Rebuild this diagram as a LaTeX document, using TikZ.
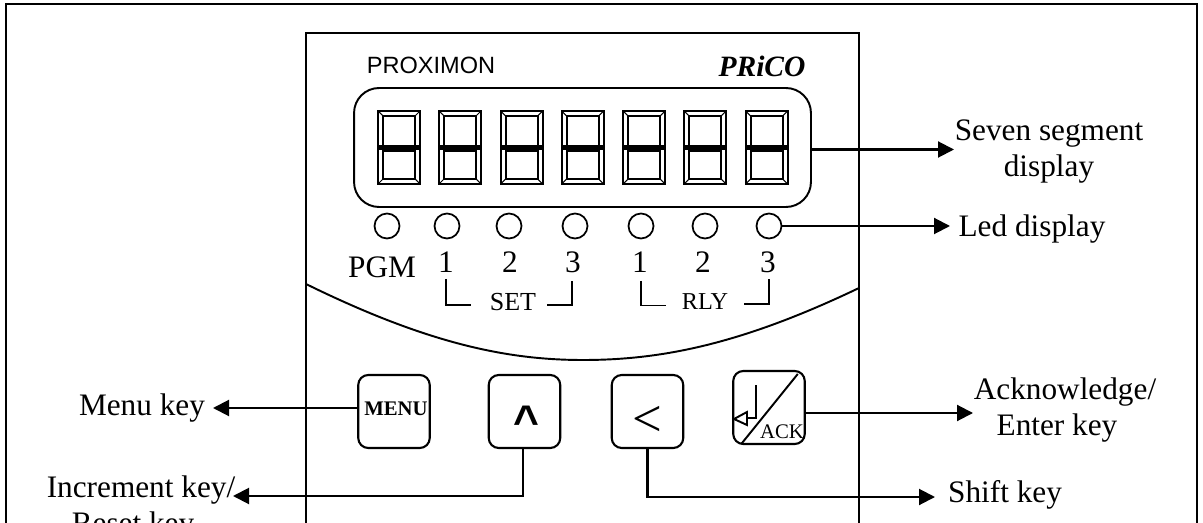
\documentclass[tikz,border=0pt]{standalone}
\usepackage{fontspec}
\setmainfont{Liberation Serif}
\newfontfamily\panelsans{Liberation Sans}
\usetikzlibrary{arrows.meta,positioning,calc}
\tikzset{
  txt/.style={font=\fontsize{17.8}{20.5}\selectfont, align=center, inner sep=0pt},
  sm/.style={font=\fontsize{14.8}{17}\selectfont, inner sep=0pt},
  keybox/.style={draw, line width=1.2pt, rounded corners=0.2cm, minimum width=1.43cm, minimum height=1.46cm, inner sep=0pt},
  led/.style={draw, circle, line width=1pt, minimum size=0.5cm, inner sep=0pt},
  arr/.style={-{Triangle[length=0.32cm,width=0.32cm]}, line width=1.15pt},
  ln/.style={line width=1.1pt},
}
\begin{document}
\begin{tikzpicture}[x=0.02cm, y=-0.02cm]
    \clip (0,0) rectangle (1203,523);
    \fill[white] (0,0) rectangle (1203,523);
    \draw[line width=1.1pt] (6,4) rectangle (1197,560);
    \draw[line width=1.1pt] (306,33) rectangle (859,560);
    \draw[ln] (306,284) .. controls (430,345) and (510,360) .. (583,360) .. controls (660,360) and (740,345) .. (859,288);

    \node[font=\panelsans\fontsize{13.4}{15}\selectfont, inner sep=0pt] (brand) at (431,65) {PROXIMON};
    \node[font=\fontsize{16.8}{19}\selectfont\bfseries\itshape, inner sep=0pt] (logo) at (762,66) {PRiCO};
    \node[draw, line width=1.1pt, rounded corners=0.5cm, minimum width=9.14cm, minimum height=2.38cm] (disp) at (582.5,147.5) {};

    % digits
    \foreach \x in {378,439,500.7,561.7,623,684,745.7} {
      \draw[line width=1.2pt] (\x,111) rectangle ++(42,73);
      \draw[line width=1.1pt] (\x+5,116) rectangle (\x+37,145.5);
      \draw[line width=1.1pt] (\x+5,151) rectangle (\x+37,179);
      \draw[line width=2.4pt] (\x,147.5) -- (\x+42,147.5);
      \draw[line width=0.6pt] (\x,111) -- (\x+5,116) (\x+42,111) -- (\x+37,116) (\x,184) -- (\x+5,179) (\x+42,184) -- (\x+37,179);
    }

    \node[led] (ledp) at (387,226) {};
    \node[led] (leda) at (447,226) {};
    \node[led] (ledb) at (509,226) {};
    \node[led] (ledc) at (575,226) {};
    \node[led] (ledd) at (641,226) {};
    \node[led] (lede) at (705,226) {};
    \node[led] (ledf) at (769,226) {};

    \node[txt] (pgm) at (382,267) {PGM};
    \node[txt] (seta) at (446,262) {1};
    \node[txt] (setb) at (510,262) {2};
    \node[txt] (setc) at (573,262) {3};
    \node[txt] (rlya) at (640,262) {1};
    \node[txt] (rlyb) at (703,262) {2};
    \node[txt] (rlyc) at (768,262) {3};
    \node[sm] (set) at (513,302) {SET};
    \node[sm, font=\fontsize{13.8}{15}\selectfont] (rly) at (705,302) {RLY};
    \draw[ln] (446,279) |- (471,305);
    \draw[ln] (547,305) -| (572,281);
    \draw[ln] (641,281) |- (665.5,305.5);
    \draw[ln] (744,304) -| (769,279);

    % keys
    \node[keybox] (menu) at (394,411.5) {};
    \node[font=\fontsize{11.8}{13}\selectfont\bfseries, inner sep=0pt] (menut) at (396,409) {MENU};
    \node[keybox] (up) at (524.5,411.5) {};
    \node[font=\panelsans\bfseries\fontsize{24}{26}\selectfont, inner sep=0pt] (upt) at (526.5,421) {\scalebox{1.05}[1.05]{\textasciicircum}};
    \node[keybox] (shift) at (647.5,411.5) {};
    \node[font=\fontsize{30}{32}\selectfont, inner sep=0pt] (shiftt) at (647,421) {<};
    \node[keybox] (ack) at (769,407.5) {};
    \draw[ln] ($(ack.south west)+(9,-1)$) -- ($(ack.north east)+(-8,4)$);
    \draw[line width=1.6pt] (756,385) -- (756,418) -- (747,418);
    \draw[ln] (734,419) -- (747,412) -- (747,425) -- cycle;
    \node[font=\fontsize{11.8}{13}\selectfont, inner sep=0pt] (ackt) at (782,432) {ACK};

    % labels
    \node[txt] (lseg) at (1049,152) {Seven segment\\display};
    \node[txt] (lled) at (1032,229) {Led display};
    \node[txt] (lack) at (1065,410) {Acknowledge/\\Enter key\hspace*{0.32cm}};
    \node[txt] (lshift) at (1005,495) {Shift key};
    \node[txt] (lmenu) at (142,408) {Menu key};
    \node[txt, anchor=north] (linc) at (141,475) {Increment key/\\Reset key\hspace*{0.32cm}};

    \coordinate (tseg) at (954,149.5);
    \coordinate (tled) at (950,226);
    \coordinate (tack) at (973,413);
    \coordinate (tshift) at (935,497);
    \coordinate (tmenu) at (213,408);
    \coordinate (tinc) at (233,496);

    \draw[arr] (disp.east |- tseg) -- (tseg);
    \draw[arr] (ledf.east) -- (tled);
    \draw[arr] (menu.west |- tmenu) -- (tmenu);
    \draw[arr] (ack.east |- tack) -- (tack);
    \draw[arr] ($(up.south)+(-1.5,0)$) |- (tinc);
    \draw[arr] (shift.south) |- (tshift);
\end{tikzpicture}
\end{document}
